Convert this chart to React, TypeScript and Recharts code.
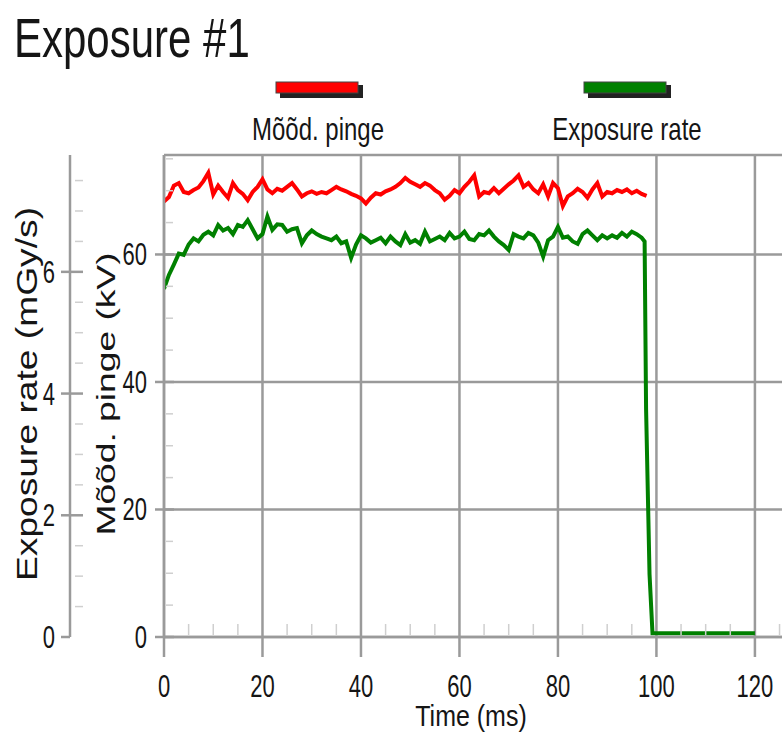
import React from 'react';
import { LineChart, Line, XAxis, YAxis, CartesianGrid, Legend } from 'recharts';

const FONT = '"Liberation Sans", Arial, Helvetica, sans-serif';
const AXIS_COLOR = '#9a9a9a';
const MINOR_COLOR = '#cfcfcf';
const TEXT_COLOR = '#151515';

// ---- data ----
const redTimeMs = [
  0, 1, 2, 3, 4, 5, 6, 7, 8, 9,
  10, 11, 12, 13, 14, 15, 16, 17, 18, 19,
  20, 21, 22, 23, 24, 25, 26, 27, 28, 29,
  30, 31, 32, 33, 34, 35, 36, 37, 38, 39,
  40, 41, 42, 43, 44, 45, 46, 47, 48, 49,
  50, 51, 52, 53, 54, 55, 56, 57, 58, 59,
  60, 61, 62, 63, 64, 65, 66, 67, 68, 69,
  70, 71, 72, 73, 74, 75, 76, 77, 78, 79,
  80, 81, 82, 83, 84, 85, 86, 87, 88, 89,
  90, 91, 92, 93, 94, 95, 96, 97, 98,
];
const measuredVoltageKv = [
  68.3, 69.0, 70.8, 71.2, 69.8, 69.6, 70.1, 70.5, 71.5, 72.8,
  69.4, 70.8, 69.8, 68.9, 71.2, 70.1, 69.5, 68.5, 69.8, 70.6,
  71.8, 70.2, 69.6, 70.3, 70.0, 70.6, 71.2, 70.2, 69.1, 69.6,
  69.9, 69.5, 69.8, 69.6, 70.1, 70.6, 70.2, 69.9, 69.5, 69.2,
  68.8, 68.0, 68.9, 69.6, 69.4, 69.9, 70.2, 70.6, 71.2, 72.0,
  71.4, 71.0, 70.6, 71.2, 70.8, 70.1, 69.6, 68.6, 69.2, 70.1,
  69.6, 70.6, 71.4, 72.4, 69.1, 69.8, 69.6, 70.4, 69.6, 70.3,
  71.0, 71.6, 72.4, 70.6, 71.2, 70.2, 69.6, 71.0, 69.1, 71.2,
  70.4, 67.6, 69.1, 69.6, 70.3, 69.8, 68.9, 70.2, 71.2, 69.1,
  69.8, 69.6, 70.1, 69.8, 70.2, 69.6, 70.0, 69.5, 69.2,
];
const greenTimeMs = [
  0, 1, 2, 3, 4, 5, 6, 7, 8, 9,
  10, 11, 12, 13, 14, 15, 16, 17, 18, 19,
  20, 21, 22, 23, 24, 25, 26, 27, 28, 29,
  30, 31, 32, 33, 34, 35, 36, 37, 38, 39,
  40, 41, 42, 43, 44, 45, 46, 47, 48, 49,
  50, 51, 52, 53, 54, 55, 56, 57, 58, 59,
  60, 61, 62, 63, 64, 65, 66, 67, 68, 69,
  70, 71, 72, 73, 74, 75, 76, 77, 78, 79,
  80, 81, 82, 83, 84, 85, 86, 87, 88, 89,
  90, 91, 92, 93, 94, 95, 96, 97,
  97.6, 97.9, 98.6, 99.2, 120,
];
const exposureRate = [
  5.72, 5.95, 6.12, 6.30, 6.28, 6.45, 6.55, 6.50, 6.61, 6.66,
  6.60, 6.77, 6.68, 6.72, 6.62, 6.77, 6.74, 6.85, 6.70, 6.55,
  6.62, 6.91, 6.69, 6.78, 6.77, 6.66, 6.70, 6.72, 6.47, 6.60,
  6.68, 6.62, 6.58, 6.55, 6.52, 6.58, 6.47, 6.50, 6.23, 6.45,
  6.60, 6.55, 6.48, 6.52, 6.56, 6.47, 6.58, 6.50, 6.44, 6.62,
  6.48, 6.52, 6.46, 6.66, 6.50, 6.54, 6.58, 6.52, 6.64, 6.55,
  6.58, 6.66, 6.54, 6.52, 6.62, 6.60, 6.68, 6.58, 6.50, 6.44,
  6.36, 6.62, 6.58, 6.55, 6.64, 6.60, 6.48, 6.25, 6.52, 6.58,
  6.74, 6.56, 6.58, 6.50, 6.46, 6.62, 6.68, 6.60, 6.52, 6.60,
  6.55, 6.60, 6.56, 6.64, 6.58, 6.66, 6.62, 6.56,
  6.50, 3.74, 1.03, 0.06, 0.06,
];

const seriesNames = ['Mõõd. pinge', 'Exposure rate'];
const xTicks = [0, 5, 10, 15, 20, 25, 30, 35, 40, 45, 50, 55, 60, 65, 70, 75, 80, 85, 90, 95, 100, 105, 110, 115, 120, 125];
const xLabelTicks = [0, 20, 40, 60, 80, 100, 120];
const kvTicks = [0, 5, 10, 15, 20, 25, 30, 35, 40, 45, 50, 55, 60, 65, 70, 75];
const kvLabelTicks = [0, 20, 40, 60];
const rateTicks = [0, 0.5, 1, 1.5, 2, 2.5, 3, 3.5, 4, 4.5, 5, 5.5, 6, 6.5, 7, 7.5];
const rateLabelTicks = [0, 2, 4, 6];
const X_MAX = 125.5;
const KV_MAX = 75.6;
const RATE_MAX = 7.92;

const redData = redTimeMs.map((t, i) => ({ t, v: measuredVoltageKv[i] }));
const greenData = greenTimeMs.map((t, i) => ({ t, v: exposureRate[i] }));

// ---- custom pieces ----
const XTick = (p: any) => {
  const { x, y, payload } = p;
  const v = payload.value;
  if (xLabelTicks.includes(v)) {
    return (
      <g>
        <line x1={x} x2={x} y1={y} y2={y + 20} stroke={AXIS_COLOR} strokeWidth={2.5} />
        <text transform={`translate(${x},${y + 60}) scale(1,1.45)`} textAnchor="middle" fontSize={22} fill={TEXT_COLOR} fontFamily={FONT}>
          {v}
        </text>
      </g>
    );
  }
  return <line x1={x} x2={x} y1={y - 13} y2={y - 2} stroke={MINOR_COLOR} strokeWidth={1.5} />;
};

const KvTick = (p: any) => {
  const { x, y, payload } = p;
  const v = payload.value;
  if (kvLabelTicks.includes(v)) {
    return (
      <g>
        <line x1={x - 9} x2={x + 10} y1={y} y2={y} stroke={AXIS_COLOR} strokeWidth={2.5} />
        <text transform={`translate(${x - 17},${y + 11}) scale(1,1.45)`} textAnchor="end" fontSize={22} fill={TEXT_COLOR} fontFamily={FONT}>
          {v}
        </text>
      </g>
    );
  }
  return <line x1={x + 2} x2={x + 9} y1={y} y2={y} stroke={MINOR_COLOR} strokeWidth={1.5} />;
};

const RateTick = (p: any) => {
  const { x, y, payload } = p;
  const v = payload.value;
  if (rateLabelTicks.includes(v)) {
    return (
      <g>
        <line x1={x - 9} x2={v === 0 ? x : x + 13} y1={y} y2={y} stroke={AXIS_COLOR} strokeWidth={2.5} />
        <text transform={`translate(${x - 15},${y + 11}) scale(1,1.45)`} textAnchor="end" fontSize={22} fill={TEXT_COLOR} fontFamily={FONT}>
          {v}
        </text>
      </g>
    );
  }
  return <line x1={x + 5} x2={x + 13} y1={y} y2={y} stroke={MINOR_COLOR} strokeWidth={1.5} />;
};

const makeRotLabel = (text: string, dx: number, fontSize: number, stretch: number) => (props: any) => {
  const vb = props.viewBox || { x: 0, y: 0, width: 0, height: 0 };
  const cx = vb.x + dx;
  const cy = vb.y + vb.height / 2 - 2;
  return (
    <text
      transform={`translate(${cx},${cy}) rotate(-90) scale(${stretch},1)`}
      y={fontSize * 0.358}
      textAnchor="middle"
      fontSize={fontSize}
      fill={TEXT_COLOR}
      fontFamily={FONT}
    >
      {text}
    </text>
  );
};

const XLabel = (props: any) => {
  const vb = props.viewBox || { x: 0, y: 0, width: 0, height: 0 };
  return (
    <text transform={`translate(${471},${vb.y + 89}) scale(1,1.15)`} textAnchor="middle" fontSize={25} fill={TEXT_COLOR} fontFamily={FONT}>
      Time (ms)
    </text>
  );
};

const legendSlots = [
  { cx: 318, sx: 276 },
  { cx: 627, sx: 584 },
];

const LegendContent = (props: any) => {
  const payload = props.payload || [];
  return (
    <svg width={782} height={150} style={{ display: 'block' }}>
      {payload.map((item: any, i: number) => {
        const idx = seriesNames.indexOf(item.value);
        const slot = legendSlots[idx >= 0 ? idx : i] || legendSlots[0];
        return (
          <g key={i}>
            <rect x={slot.sx + 4} y={85} width={83} height={13} fill="#222" />
            <rect x={slot.sx} y={82} width={82} height={11} fill={item.color} stroke="#444" strokeWidth={1} />
            <text transform={`translate(${slot.cx},140) scale(1,1.3)`} textAnchor="middle" fontSize={24} fill={TEXT_COLOR} fontFamily={FONT}>
              {item.value}
            </text>
          </g>
        );
      })}
    </svg>
  );
};

export default function App() {
  return (
    <div style={{ position: 'absolute', left: 0, top: 0, width: 782, height: 737, background: '#fff', fontFamily: FONT }}>
      <svg width={782} height={80} style={{ position: 'absolute', left: 0, top: 0 }}>
        <text transform="translate(14,57) scale(1,1.33)" fontSize={42} fill={TEXT_COLOR} fontFamily={FONT}>
          Exposure #1
        </text>
      </svg>
      <LineChart width={782} height={737} margin={{ top: 155, right: 0, bottom: 0, left: 0 }}>
        <CartesianGrid
          xAxisId="t"
          yAxisId="kv"
          stroke={AXIS_COLOR}
          strokeWidth={2.5}
          horizontalValues={[0, 20, 40, 60, KV_MAX]}
          verticalValues={xLabelTicks}
        />
        <XAxis
          xAxisId="t"
          dataKey="t"
          type="number"
          domain={[0, X_MAX]}
          allowDataOverflow
          ticks={xTicks}
          interval={0}
          tickSize={0}
          tickMargin={0}
          tickLine={false}
          axisLine={{ stroke: AXIS_COLOR, strokeWidth: 2.5 }}
          tick={(p: any) => <XTick {...p} />}
          height={100}
          label={(p: any) => <XLabel {...p} />}
        />
        <YAxis
          yAxisId="kv"
          type="number"
          domain={[0, KV_MAX]}
          allowDataOverflow
          ticks={kvTicks}
          interval={0}
          tickSize={0}
          tickMargin={0}
          tickLine={false}
          axisLine={{ stroke: AXIS_COLOR, strokeWidth: 2.5 }}
          tick={(p: any) => <KvTick {...p} />}
          width={94}
          label={makeRotLabel('Mõõd. pinge (kV)', 36, 26, 1.43)}
        />
        <YAxis
          yAxisId="rate"
          type="number"
          domain={[0, RATE_MAX]}
          allowDataOverflow
          ticks={rateTicks}
          interval={0}
          tickSize={0}
          tickMargin={0}
          tickLine={false}
          axisLine={{ stroke: AXIS_COLOR, strokeWidth: 2.5 }}
          tick={(p: any) => <RateTick {...p} />}
          width={70}
          label={makeRotLabel('Exposure rate (mGy/s)', 26, 30, 1.24)}
        />
        <Legend
          layout="horizontal"
          verticalAlign="middle"
          align="center"
          width={782}
          height={150}
          wrapperStyle={{ top: 0, left: 0, width: 782, height: 150 }}
          content={(p: any) => <LegendContent {...p} />}
        />
        <Line
          xAxisId="t"
          yAxisId="kv"
          data={redData}
          dataKey="v"
          name="Mõõd. pinge"
          stroke="#ff0000"
          strokeWidth={4}
          dot={false}
          activeDot={false}
          isAnimationActive={false}
        />
        <Line
          xAxisId="t"
          yAxisId="rate"
          data={greenData}
          dataKey="v"
          name="Exposure rate"
          stroke="#008000"
          strokeWidth={4}
          dot={false}
          activeDot={false}
          isAnimationActive={false}
        />
      </LineChart>
    </div>
  );
}
